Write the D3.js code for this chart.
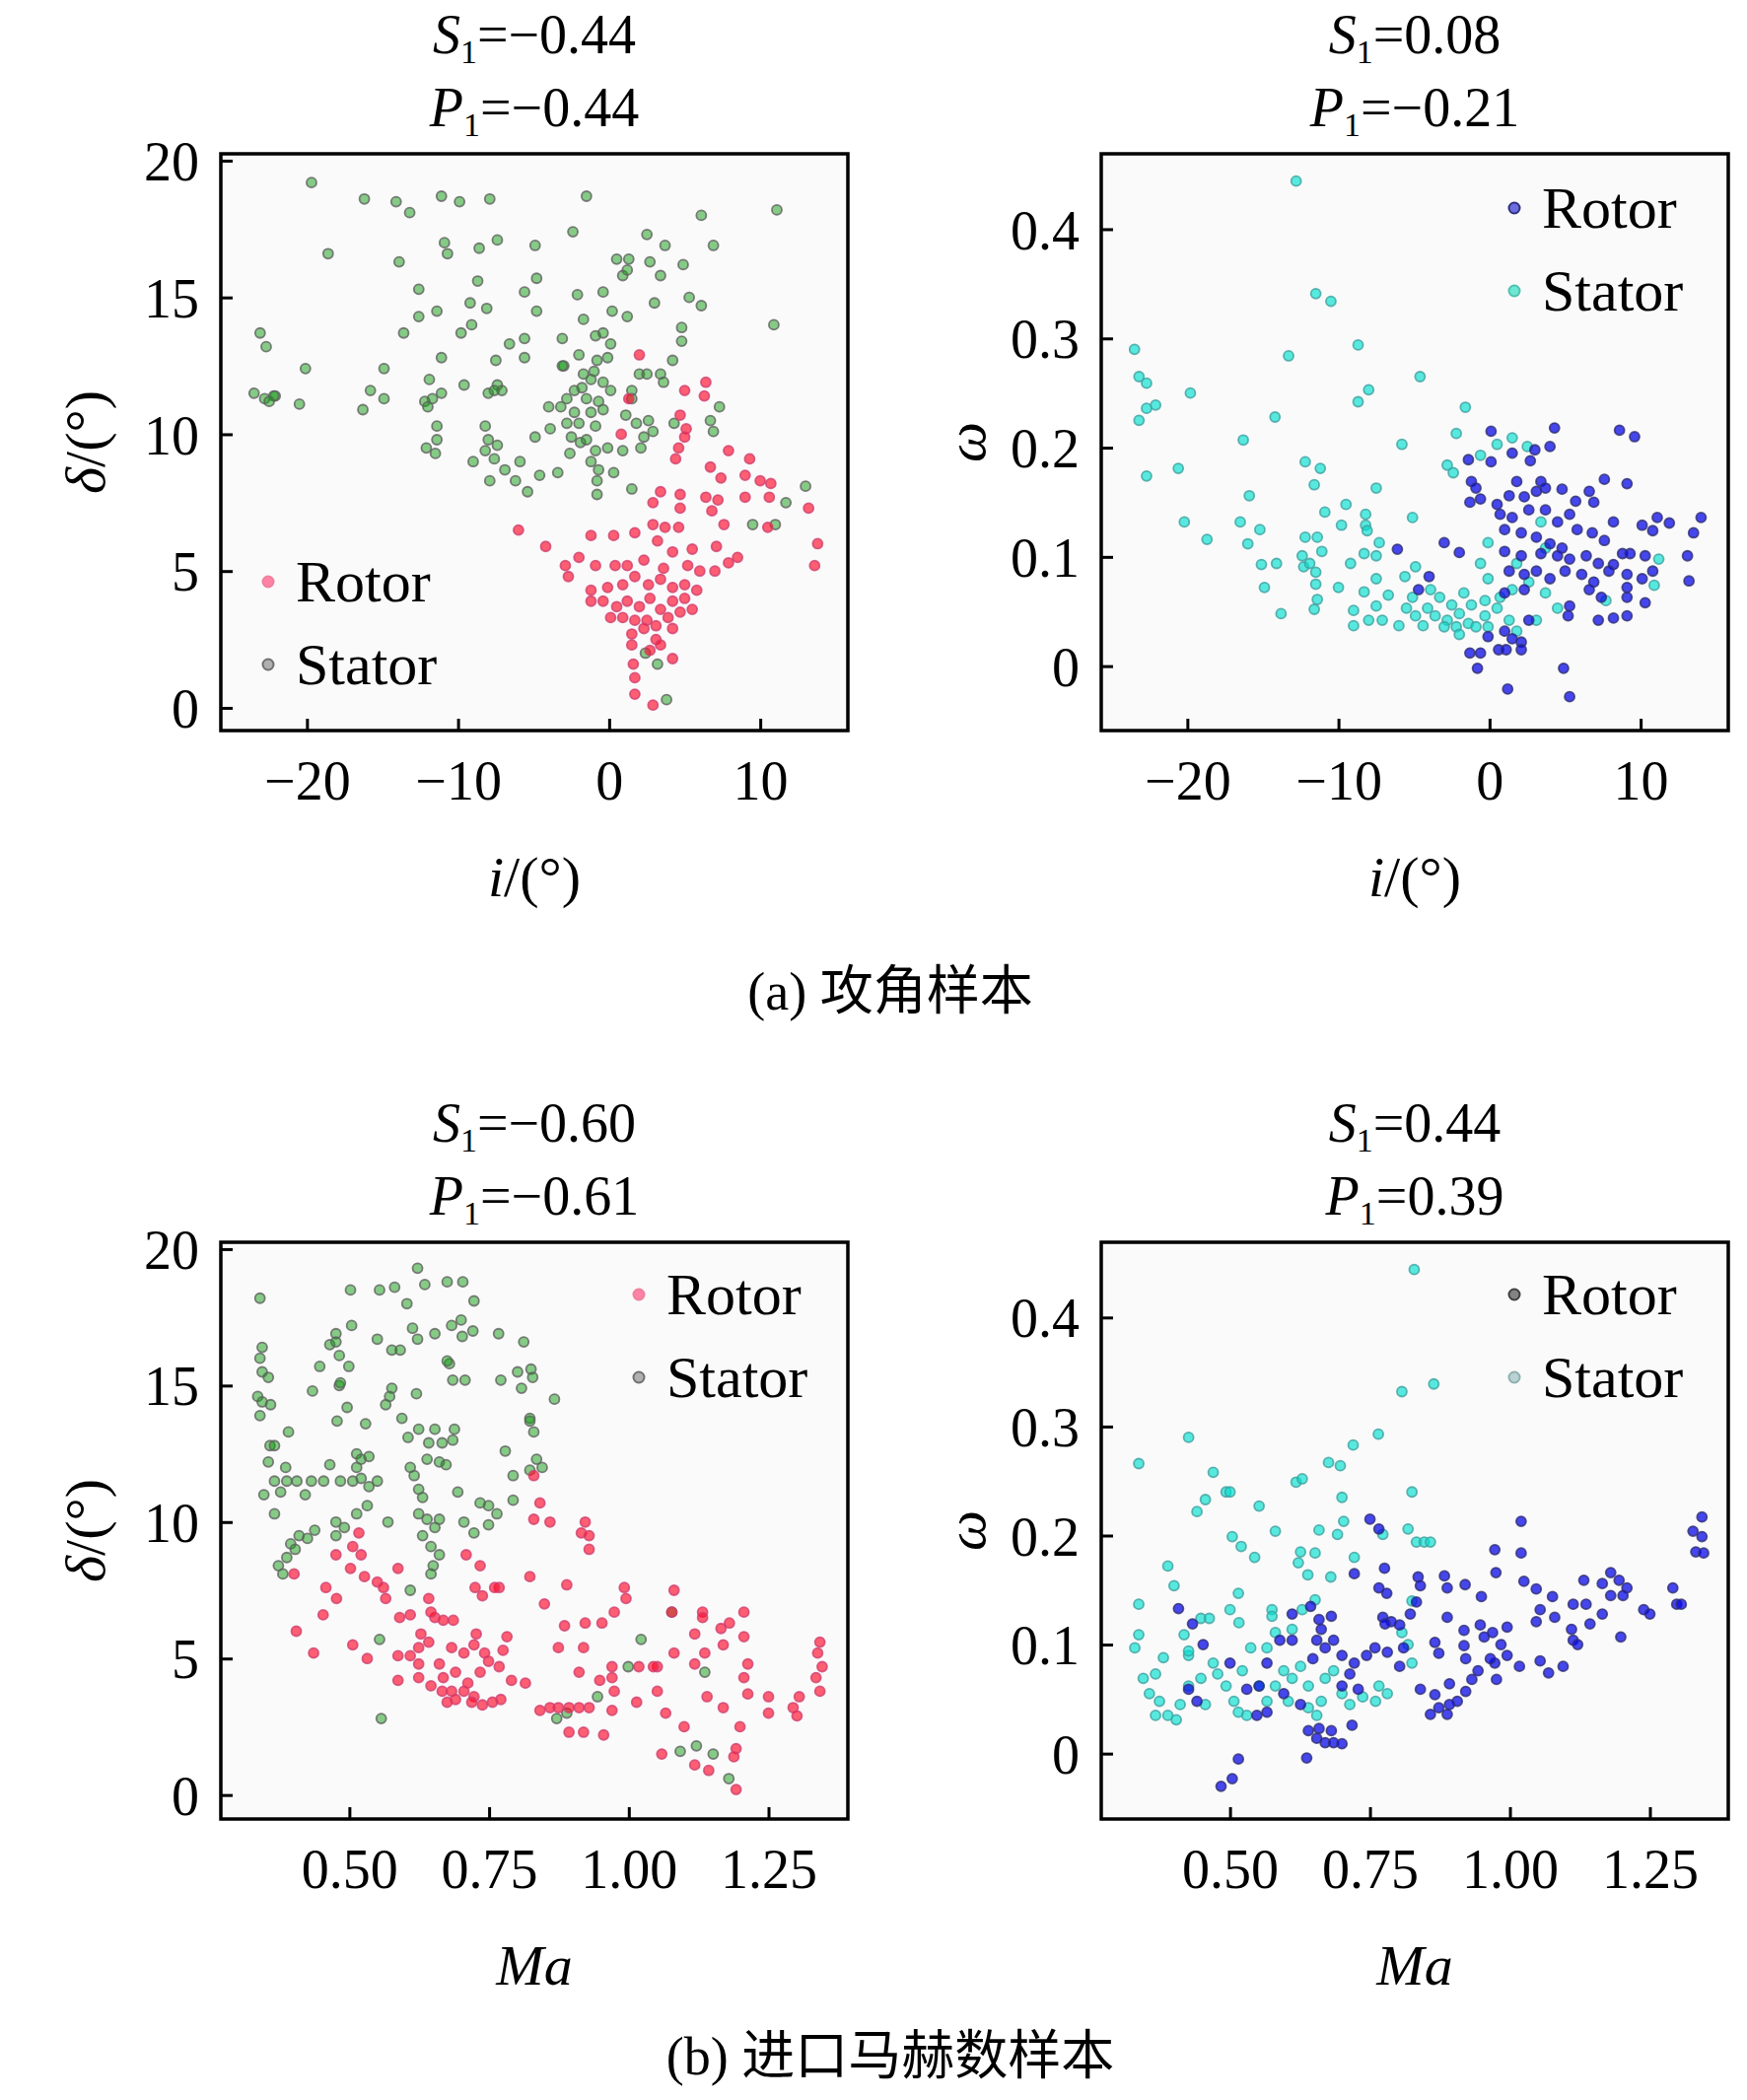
<!DOCTYPE html>
<html lang="en">
<head>
<meta charset="utf-8">
<style>
  body { margin: 0; background: #fff; }
  svg text { font-family: "Liberation Serif", "Times New Roman", "DejaVu Serif", serif; fill: #000; }
</style>
</head>
<body>
<svg id="chart" width="1772" height="2130"></svg>
<script src="https://cdn.jsdelivr.net/npm/d3@7"></script>
<script>
// ---- data ----
var iTicks = [-20, -10, 0, 10];
var maTicks = [0.5, 0.75, 1.0, 1.25];
var deltaTicks = [0, 5, 10, 15, 20];
var omegaTicks = [0, 0.1, 0.2, 0.3, 0.4];

var titles = [["-0.44", "-0.44"], ["0.08", "-0.21"], ["-0.60", "-0.61"], ["0.44", "0.39"]];

// (a) incidence vs deviation
var aRotorDelta = [[2.0,12.9],[6.4,11.9],[6.3,11.4],[5.0,11.6],[1.3,11.3],[4.7,10.7],[5.1,10.2],[5.0,9.9],[0.8,10.0],[4.6,9.5],[4.4,9.1],[6.7,8.8],[7.9,9.4],[9.3,9.1],[9.0,8.5],[7.4,8.4],[10.0,8.3],[10.7,8.2],[9.0,7.7],[10.6,7.7],[6.4,7.7],[7.2,7.6],[4.7,7.8],[3.4,7.9],[2.9,7.5],[4.7,7.3],[6.8,7.2],[13.2,7.3],[7.6,6.7],[10.5,6.6],[13.8,6.0],[13.6,5.2],[2.9,6.7],[3.7,6.6],[4.6,6.6],[-6.0,6.5],[-4.2,5.9],[-1.2,6.3],[0.3,6.3],[1.7,6.4],[3.2,6.1],[4.2,5.7],[5.5,5.8],[7.1,5.9],[8.5,5.5],[7.0,5.0],[7.9,5.3],[-2.9,5.2],[-2.0,5.5],[-2.7,4.8],[-0.9,5.2],[0.4,5.2],[1.2,5.2],[2.3,5.4],[3.6,5.1],[5.2,5.2],[6.0,5.0],[-1.2,4.3],[-0.1,4.4],[0.9,4.5],[1.7,4.8],[2.6,4.5],[3.4,4.7],[4.2,4.4],[5.0,4.5],[5.8,4.3],[-1.2,3.9],[-0.4,3.9],[0.5,3.7],[1.2,3.9],[2.0,3.7],[2.7,4.0],[3.4,3.6],[4.2,3.9],[5.0,4.0],[5.5,3.6],[0.1,3.3],[0.9,3.3],[1.7,3.2],[2.5,3.2],[3.1,3.0],[3.9,3.3],[4.7,3.5],[1.5,2.7],[2.3,2.9],[3.1,2.5],[4.2,2.9],[1.5,2.3],[3.4,2.3],[4.2,1.8],[1.6,1.6],[1.7,1.1],[1.7,0.5],[2.9,0.1],[2.7,2.1]];
var aStatorDelta = [[-19.7,19.2],[-16.2,18.6],[-14.1,18.5],[-13.2,18.1],[-11.1,18.7],[-9.9,18.5],[-7.9,18.6],[-1.5,18.7],[6.1,18.0],[11.1,18.2],[-18.6,16.6],[-13.9,16.3],[-10.9,17.0],[-10.7,16.6],[-8.6,16.8],[-7.4,17.1],[-4.9,16.9],[-2.4,17.4],[2.5,17.3],[3.7,16.9],[6.9,16.9],[0.5,16.4],[1.3,16.4],[2.7,16.3],[4.9,16.2],[3.4,15.8],[-8.7,15.6],[-4.8,15.7],[-12.6,15.3],[-5.6,15.2],[-2.1,15.1],[-0.4,15.2],[3.0,14.8],[5.3,15.0],[6.1,14.7],[-12.6,14.3],[-11.4,14.5],[-9.2,14.8],[-8.1,14.6],[-4.8,14.5],[0.2,14.5],[-23.1,13.7],[-22.7,13.2],[-13.6,13.7],[-9.8,13.7],[-9.1,14.0],[-6.6,13.3],[-5.6,13.5],[-1.7,14.2],[4.8,13.9],[4.8,13.4],[10.9,14.0],[-11.1,12.8],[-7.5,12.7],[-5.6,12.8],[-3.1,13.5],[4.2,12.7],[-20.1,12.4],[-14.9,12.4],[-3.0,12.5],[3.4,12.2],[3.6,11.9],[-9.6,11.8],[-11.9,12.0],[-23.5,11.5],[-22.1,11.4],[-20.5,11.1],[-15.8,11.6],[-14.9,11.3],[-16.3,10.9],[-8.0,11.5],[1.5,11.6],[1.5,11.3],[7.3,11.0],[-4.0,11.0],[-11.4,10.3],[-8.2,10.3],[-11.4,9.8],[-12.1,9.5],[-11.5,9.3],[-8.0,9.8],[-7.4,9.6],[-8.2,9.4],[-9.0,9.0],[-7.6,9.1],[-6.9,8.7],[-7.9,8.3],[-6.2,8.3],[-5.4,7.9],[-5.9,9.0],[-4.9,9.9],[-3.9,10.2],[-2.6,9.3],[-1.9,9.7],[1.1,10.7],[1.8,10.4],[2.6,10.5],[2.3,9.9],[2.9,10.1],[2.1,9.5],[-0.1,9.5],[4.3,10.4],[6.7,10.5],[6.9,10.1],[1.5,8.0],[11.7,7.5],[13.0,8.1],[9.5,6.7],[11.0,6.7],[-3.4,8.6],[-4.6,8.5],[0.3,8.6],[3.8,0.3],[2.4,2.0],[3.2,1.6],
  [-22.8,11.3],[-22.2,11.4],[-22.5,11.2],[-12.2,11.2],[-11.7,11.3],[-11.1,11.5],[-12.0,11.0],[-7.4,11.8],[-7.1,11.6],[-7.6,11.6],[0.9,15.8],[1.2,16.0],[-0.9,13.6],[-0.4,13.7],[0.1,13.3],[-2.0,12.9],[-0.8,12.7],[-0.1,12.8],[-3.1,12.5],[-1.7,12.2],[-1.2,12.0],[-0.4,11.9],[0.1,11.6],[-2.3,11.6],[-1.5,11.3],[-0.7,11.2],[-2.8,11.3],[-3.2,11.0],[-2.3,10.8],[-1.2,10.8],[-0.4,10.9],[-2.8,10.4],[-2.0,10.4],[-0.9,10.3],[-2.5,9.9],[-1.5,9.8],[-0.9,9.4],[-1.2,9.0],[-0.7,8.7],[-0.8,8.3],[-0.8,7.8],[0.9,9.4],[2.0,12.2],[2.5,12.2],[1.2,14.3],[-1.0,12.3],[-1.8,11.7]];

// (a) incidence vs loss
var aRotorOmega = [[0.1,0.215],[4.3,0.218],[4.0,0.201],[8.6,0.216],[9.6,0.210],[-1.4,0.189],[0.1,0.187],[1.5,0.195],[2.7,0.188],[3.0,0.198],[-1.2,0.169],[-0.9,0.163],[1.8,0.169],[3.4,0.169],[7.6,0.171],[9.1,0.167],[-1.3,0.150],[-0.6,0.153],[0.5,0.148],[1.3,0.156],[2.3,0.155],[3.1,0.160],[3.7,0.163],[4.8,0.162],[5.7,0.151],[6.6,0.160],[6.9,0.150],[0.7,0.139],[1.5,0.136],[2.6,0.143],[3.7,0.143],[4.5,0.132],[5.3,0.139],[8.2,0.132],[10.1,0.129],[11.1,0.136],[11.9,0.131],[14.0,0.136],[10.8,0.124],[13.5,0.122],[1.0,0.125],[2.1,0.122],[3.1,0.118],[4.0,0.112],[4.8,0.108],[5.8,0.125],[6.8,0.122],[7.6,0.115],[1.0,0.105],[2.1,0.101],[3.4,0.103],[4.5,0.101],[5.3,0.098],[6.4,0.101],[7.2,0.094],[8.2,0.093],[8.8,0.103],[9.3,0.103],[10.3,0.101],[13.1,0.101],[13.2,0.078],[-3.0,0.113],[-6.1,0.107],[-2.0,0.104],[1.3,0.087],[2.3,0.084],[3.1,0.087],[4.0,0.080],[5.0,0.087],[6.1,0.084],[6.9,0.077],[7.9,0.087],[9.1,0.084],[10.1,0.080],[10.8,0.087],[9.1,0.072],[9.1,0.063],[10.3,0.058],[6.6,0.070],[7.4,0.063],[5.3,0.055],[8.2,0.044],[7.2,0.042],[9.1,0.046],[5.2,0.046],[-4.0,0.082],[-4.7,0.070],[2.3,0.070],[-0.1,0.027],[1.0,0.032],[1.5,0.025],[2.1,0.022],[2.1,0.015],[0.6,0.015],[1.1,0.015],[-1.3,0.012],[-0.6,0.012],[-0.8,-0.002],[4.9,-0.002],[1.2,-0.021],[5.3,-0.028],[2.6,0.042],[1.0,0.067]];
var aStatorOmega = [[-12.8,0.444],[-11.5,0.341],[-10.5,0.334],[-23.5,0.290],[-13.3,0.284],[-8.7,0.294],[-23.2,0.265],[-22.7,0.259],[-22.7,0.236],[-22.1,0.239],[-23.2,0.225],[-19.8,0.250],[-14.2,0.228],[-8.0,0.253],[-8.7,0.242],[-4.6,0.265],[-1.6,0.237],[-16.3,0.207],[-5.8,0.203],[-2.2,0.213],[-20.6,0.181],[-22.7,0.174],[-12.2,0.187],[-11.2,0.181],[-11.6,0.166],[-2.8,0.184],[-2.4,0.177],[-0.6,0.193],[0.5,0.203],[1.5,0.209],[2.5,0.201],[-15.9,0.156],[-7.5,0.163],[-9.5,0.148],[-20.2,0.132],[-10.9,0.141],[-8.2,0.139],[-5.1,0.136],[-16.5,0.132],[-15.2,0.125],[-9.8,0.129],[-8.2,0.129],[-18.7,0.116],[-16.0,0.112],[-8.1,0.124],[-12.2,0.118],[-11.4,0.118],[-11.1,0.105],[-7.3,0.113],[-0.1,0.113],[-15.1,0.093],[-14.1,0.094],[-12.4,0.101],[-12.3,0.091],[-11.9,0.094],[-9.2,0.094],[-8.3,0.103],[-7.5,0.101],[-14.9,0.072],[-11.5,0.086],[-11.5,0.075],[-10.0,0.072],[-8.3,0.068],[-7.5,0.080],[-6.7,0.065],[-11.4,0.061],[-11.6,0.052],[-13.8,0.048],[-9.0,0.051],[-7.5,0.055],[-5.6,0.082],[-4.9,0.091],[-3.9,0.070],[-9.0,0.037],[-8.0,0.042],[-7.1,0.042],[-6.0,0.037],[-5.5,0.053],[-4.9,0.046],[-4.4,0.037],[-3.3,0.063],[-2.5,0.056],[-3.6,0.046],[-2.8,0.042],[-2.0,0.048],[-1.4,0.039],[-3.0,0.036],[-2.2,0.036],[-0.9,0.036],[-0.3,0.046],[-1.2,0.056],[-1.7,0.067],[-0.3,0.060],[0.5,0.053],[1.3,0.042],[-0.1,0.036],[0.7,0.063],[-0.6,0.094],[-0.1,0.080],[1.5,0.070],[2.6,0.077],[3.1,0.042],[3.7,0.067],[4.5,0.053],[1.8,0.094],[3.7,0.108],[3.4,0.132],[7.7,0.060],[11.2,0.098],[10.9,0.074],[1.8,0.032],[-4.1,0.053],[-5.1,0.063],[-2.0,0.029]];

// (b) inlet Mach vs deviation
var bRotorDelta = [[0.830,11.7],[0.830,10.1],[0.859,10.0],[0.841,10.7],[0.922,10.0],[0.915,9.6],[0.929,9.5],[0.929,9.0],[0.823,8.0],[0.768,7.6],[0.760,7.6],[0.992,7.6],[0.995,7.2],[0.889,7.7],[0.734,8.4],[0.709,8.8],[0.517,9.6],[0.476,8.8],[0.506,9.1],[0.521,8.8],[0.502,8.3],[0.587,8.3],[0.401,8.1],[0.527,8.0],[0.550,7.8],[0.561,7.6],[0.565,7.2],[0.458,7.6],[0.477,7.2],[0.642,7.2],[0.725,7.6],[0.738,7.3],[0.849,7.0],[1.081,7.5],[1.077,6.7],[1.132,6.7],[1.180,6.3],[1.206,6.7],[1.206,5.8],[1.342,5.6],[1.338,5.2],[1.346,4.7],[1.335,4.3],[1.342,3.8],[1.305,3.6],[1.294,3.2],[1.301,2.9],[1.250,3.6],[1.213,3.7],[1.250,3.0],[1.199,2.5],[1.192,1.7],[1.188,1.4],[1.192,0.2],[1.118,1.1],[1.143,0.9],[1.059,1.5],[1.099,2.5],[1.169,3.2],[1.140,3.6],[1.206,4.3],[1.213,4.8],[1.169,5.5],[1.136,5.2],[1.118,5.9],[1.118,4.8],[1.081,5.2],[1.066,3.0],[1.051,3.8],[1.051,4.7],[1.014,3.4],[0.970,4.7],[0.970,4.3],[0.970,3.1],[0.974,3.8],[0.948,4.2],[0.919,5.4],[0.952,6.3],[0.922,6.3],[0.885,6.2],[0.874,5.4],[0.911,4.5],[0.929,3.2],[0.911,3.2],[0.893,3.2],[0.874,3.2],[0.859,3.2],[0.841,3.1],[0.955,2.2],[0.919,2.3],[0.893,2.3],[0.974,6.7],[1.018,4.7],[1.044,4.7],[1.165,6.1],[1.132,6.5],[0.782,5.8],[0.815,4.1],[0.790,4.2],[0.768,4.7],[0.749,4.9],[0.734,4.5],[0.738,3.3],[0.723,3.6],[0.705,3.8],[0.683,3.8],[0.666,3.8],[0.646,4.0],[0.668,4.3],[0.690,4.5],[0.712,4.1],[0.661,4.8],[0.683,5.4],[0.705,5.2],[0.723,5.5],[0.742,5.2],[0.642,5.6],[0.628,5.9],[0.624,5.4],[0.624,4.8],[0.624,4.3],[0.653,6.5],[0.668,6.4],[0.686,6.4],[0.727,5.9],[0.775,5.3],[0.587,5.1],[0.587,4.2],[0.609,5.1],[0.532,5.0],[0.506,5.5],[0.590,6.5],[0.609,6.6],[0.646,6.7],[0.405,6.0],[0.436,5.2],[0.453,6.6],[0.690,3.5],[0.719,3.4],[0.756,3.4],[0.771,3.5],[0.675,3.4]];
var bStatorDelta = [[0.340,18.2],[0.502,18.5],[0.554,18.5],[0.581,18.6],[0.622,19.3],[0.635,18.7],[0.675,18.8],[0.703,18.8],[0.603,18.0],[0.723,18.1],[0.504,17.2],[0.476,16.9],[0.465,16.5],[0.550,16.7],[0.613,17.1],[0.653,16.9],[0.683,17.2],[0.700,17.4],[0.721,17.0],[0.622,16.7],[0.702,16.8],[0.767,16.9],[0.812,16.6],[0.576,16.3],[0.591,16.3],[0.344,16.4],[0.340,16.0],[0.482,16.1],[0.447,15.7],[0.499,15.7],[0.679,15.8],[0.685,15.2],[0.707,15.2],[0.771,15.2],[0.801,15.5],[0.825,15.6],[0.828,15.3],[0.867,14.5],[0.808,14.9],[0.434,14.8],[0.344,15.5],[0.355,15.3],[0.482,15.0],[0.496,14.2],[0.576,14.9],[0.620,14.7],[0.391,13.3],[0.478,13.7],[0.529,13.6],[0.624,13.4],[0.653,13.4],[0.688,13.4],[0.642,12.9],[0.666,12.9],[0.685,13.0],[0.823,13.8],[0.779,12.6],[0.358,12.8],[0.355,12.2],[0.386,12.0],[0.465,12.1],[0.639,12.3],[0.661,12.2],[0.673,12.1],[0.845,12.0],[0.835,12.3],[0.347,11.0],[0.366,10.3],[0.377,11.1],[0.421,11.0],[0.694,11.1],[0.734,10.7],[0.793,10.8],[0.705,10.0],[0.723,9.6],[0.569,10.0],[0.476,10.0],[0.438,9.7],[0.609,7.5],[0.554,5.7],[0.557,2.8],[0.889,3.0],[0.871,2.8],[1.092,1.6],[1.121,1.8],[1.151,1.5],[1.179,0.6],[1.136,4.5],[1.022,5.7],[1.077,6.7],[0.999,4.7],[0.944,3.6],
  [0.336,14.6],[0.344,14.4],[0.340,13.9],[0.359,14.3],[0.366,12.8],[0.366,11.5],[0.388,11.5],[0.406,11.5],[0.432,11.5],[0.454,11.5],[0.484,11.5],[0.506,11.5],[0.521,11.6],[0.535,11.3],[0.550,11.5],[0.513,12.0],[0.513,12.5],[0.521,12.3],[0.532,10.6],[0.513,10.3],[0.491,9.8],[0.476,9.5],[0.535,12.4],[0.572,14.6],[0.565,14.3],[0.594,13.8],[0.605,13.1],[0.609,12.0],[0.616,11.7],[0.624,11.2],[0.631,10.9],[0.624,10.3],[0.639,10.1],[0.653,9.8],[0.661,10.1],[0.631,9.5],[0.646,9.1],[0.661,8.8],[0.650,8.4],[0.646,8.1],[0.395,9.2],[0.403,9.0],[0.388,8.7],[0.373,8.4],[0.381,8.1],[0.410,9.5],[0.425,9.4],[0.675,15.9],[0.749,10.6],[0.764,10.3],[0.749,9.9],[0.823,13.7],[0.830,13.3],[0.793,11.7],[0.823,11.9],[0.484,15.1],[0.476,16.6]];

// (b) inlet Mach vs loss
var bRotorOmega = [[1.343,0.217],[1.327,0.204],[1.343,0.199],[1.332,0.185],[1.346,0.184],[1.020,0.213],[1.020,0.184],[0.973,0.187],[0.975,0.166],[0.750,0.215],[0.766,0.206],[0.722,0.165],[0.776,0.170],[0.766,0.152],[0.780,0.147],[0.836,0.162],[0.840,0.154],[0.883,0.163],[0.888,0.152],[0.920,0.155],[0.949,0.144],[1.025,0.158],[1.047,0.151],[1.054,0.132],[1.076,0.144],[1.080,0.125],[1.047,0.121],[1.113,0.137],[1.132,0.159],[1.136,0.137],[1.143,0.119],[1.110,0.114],[1.113,0.104],[1.121,0.100],[1.165,0.156],[1.180,0.166],[1.195,0.159],[1.209,0.152],[1.202,0.145],[1.180,0.145],[1.165,0.128],[1.198,0.107],[1.239,0.132],[1.250,0.128],[1.291,0.152],[1.298,0.137],[1.306,0.137],[1.054,0.085],[1.069,0.074],[1.095,0.080],[1.017,0.080],[0.995,0.116],[0.969,0.111],[0.984,0.100],[0.995,0.090],[0.973,0.083],[0.976,0.068],[0.947,0.118],[0.954,0.107],[0.965,0.087],[0.918,0.113],[0.918,0.099],[0.921,0.087],[0.943,0.076],[0.932,0.068],[0.921,0.057],[0.906,0.048],[0.892,0.045],[0.873,0.042],[0.858,0.036],[0.888,0.036],[0.892,0.064],[0.866,0.054],[0.840,0.059],[0.866,0.102],[0.873,0.092],[0.888,0.125],[0.833,0.139],[0.822,0.128],[0.803,0.118],[0.788,0.121],[0.773,0.125],[0.803,0.080],[0.810,0.097],[0.781,0.093],[0.759,0.097],[0.744,0.090],[0.722,0.083],[0.700,0.090],[0.714,0.073],[0.700,0.062],[0.729,0.059],[0.685,0.104],[0.670,0.097],[0.655,0.104],[0.648,0.087],[0.611,0.104],[0.589,0.104],[0.566,0.083],[0.552,0.062],[0.596,0.055],[0.626,0.045],[0.566,0.038],[0.548,0.035],[0.663,0.114],[0.681,0.126],[0.659,0.123],[0.611,0.128],[0.644,0.135],[0.777,0.119],[0.640,0.021],[0.655,0.014],[0.670,0.010],[0.685,0.010],[0.700,0.009],[0.681,0.021],[0.659,0.023],[0.718,0.026],[0.452,0.100],[0.433,0.119],[0.408,0.133],[0.426,0.059],[0.441,0.048],[0.515,-0.005],[0.504,-0.023],[0.484,-0.030],[0.637,-0.004],[0.500,0.083],[0.530,0.059]];
var bStatorOmega = [[0.829,0.444],[0.807,0.332],[0.864,0.339],[0.765,0.293],[0.337,0.266],[0.426,0.290],[0.720,0.283],[0.676,0.267],[0.697,0.264],[0.470,0.258],[0.618,0.249],[0.629,0.252],[0.493,0.240],[0.500,0.240],[0.700,0.235],[0.825,0.240],[0.456,0.233],[0.552,0.227],[0.441,0.222],[0.581,0.204],[0.659,0.205],[0.703,0.213],[0.692,0.201],[0.773,0.201],[0.818,0.206],[0.833,0.194],[0.847,0.194],[0.858,0.194],[0.504,0.199],[0.520,0.190],[0.544,0.180],[0.722,0.180],[0.626,0.185],[0.652,0.184],[0.622,0.175],[0.389,0.172],[0.639,0.164],[0.680,0.162],[0.400,0.154],[0.515,0.147],[0.337,0.137],[0.500,0.132],[0.516,0.120],[0.575,0.132],[0.575,0.126],[0.652,0.141],[0.629,0.132],[0.448,0.124],[0.463,0.124],[0.825,0.140],[0.807,0.111],[0.337,0.109],[0.330,0.097],[0.381,0.088],[0.418,0.109],[0.818,0.100],[0.825,0.083],[0.345,0.069],[0.367,0.073],[0.356,0.055],[0.374,0.048],[0.389,0.035],[0.404,0.031],[0.367,0.035],[0.411,0.045],[0.426,0.062],[0.426,0.090],[0.448,0.069],[0.456,0.045],[0.470,0.083],[0.478,0.073],[0.493,0.062],[0.507,0.048],[0.515,0.038],[0.530,0.035],[0.522,0.076],[0.537,0.097],[0.552,0.062],[0.566,0.048],[0.581,0.062],[0.596,0.076],[0.604,0.048],[0.611,0.069],[0.626,0.080],[0.640,0.062],[0.640,0.042],[0.655,0.035],[0.663,0.048],[0.670,0.069],[0.685,0.076],[0.700,0.055],[0.714,0.045],[0.737,0.052],[0.760,0.048],[0.781,0.055],[0.766,0.062],[0.566,0.097],[0.611,0.114],[0.581,0.111],[0.426,0.094]];

var svg = d3.select("#chart");

var deltaStyle = {
    rotor: { fill: "#ff0a2a", fillOp: 0.65, stroke: "#d04070" },
    stator: { fill: "#109a10", fillOp: 0.5, stroke: "#606060" }
};
var omegaStyle = {
    rotor: { fill: "#0a0ae8", fillOp: 0.75, stroke: "#303070" },
    stator: { fill: "#00e0d0", fillOp: 0.65, stroke: "#40a0a0" }
};

function panel(o) {
    var x = d3.scaleLinear().domain(o.xDom).range([o.x0, o.x1]);
    var y = d3.scaleLinear().domain(o.yDom).range([o.y1, o.y0]);
    var g = svg.append("g");

    g.append("rect").attr("x", o.x0).attr("y", o.y0)
        .attr("width", o.x1 - o.x0).attr("height", o.y1 - o.y0)
        .attr("fill", "#fafafa");

    // points: stator first, rotor on top
    [["stator", o.stator], ["rotor", o.rotor]].forEach(function(s) {
        var st = o.style[s[0]];
        g.append("g").selectAll("circle").data(s[1]).enter()
            .append("circle")
            .attr("cx", function(d) { return x(d[0]); })
            .attr("cy", function(d) { return y(d[1]); })
            .attr("r", 5)
            .attr("fill", st.fill).attr("fill-opacity", st.fillOp)
            .attr("stroke", st.stroke).attr("stroke-opacity", 0.8)
            .attr("stroke-width", 1.8);
    });

    // axes with inward ticks
    var xa = g.append("g").attr("transform", "translate(0," + o.y1 + ")")
        .call(d3.axisBottom(x).tickValues(o.xTicks).tickSizeInner(-12).tickSizeOuter(0)
            .tickPadding(20).tickFormat(o.xFmt));
    var ya = g.append("g").attr("transform", "translate(" + o.x0 + ",0)")
        .call(d3.axisLeft(y).tickValues(o.yTicks).tickSizeInner(-12).tickSizeOuter(0)
            .tickPadding(22).tickFormat(o.yFmt));
    [xa, ya].forEach(function(a) {
        a.select(".domain").remove();
        a.selectAll("line").attr("stroke", "#000").attr("stroke-width", 3);
        a.selectAll("text").style("font-family", "'Liberation Serif', 'Times New Roman', serif").style("font-size", "56px").attr("fill", "#000");
    });
    xa.selectAll("text").attr("dy", "0.9em");
    ya.selectAll("text").attr("dy", "0.35em");

    g.append("rect").attr("x", o.x0).attr("y", o.y0)
        .attr("width", o.x1 - o.x0).attr("height", o.y1 - o.y0)
        .attr("fill", "none").attr("stroke", "#000").attr("stroke-width", 3.5);

    // title
    var cx = (o.x0 + o.x1) / 2;
    [["S", o.title[0], o.y0 - 102], ["P", o.title[1], o.y0 - 28]].forEach(function(t) {
        var tx = g.append("text").attr("x", cx).attr("y", t[2])
            .attr("text-anchor", "middle").style("font-size", "56px");
        tx.append("tspan").style("font-style", "italic").text(t[0]);
        tx.append("tspan").attr("dy", 10).style("font-size", "34px").text("1");
        tx.append("tspan").attr("dy", -10).text("=" + t[1].replace("-", "\u2212"));
    });

    // axis labels
    var xl = g.append("text").attr("x", cx).attr("y", o.y1 + 168)
        .attr("text-anchor", "middle").style("font-size", "58px");
    if (o.xLabel === "i") {
        xl.append("tspan").style("font-style", "italic").text("i");
        xl.append("tspan").text("/(°)");
    } else {
        xl.append("tspan").style("font-style", "italic").text("Ma");
    }
    var yl = g.append("text")
        .attr("transform", "translate(" + (o.x0 - 118) + "," + ((o.y0 + o.y1) / 2) + ") rotate(-90)")
        .attr("text-anchor", "middle").style("font-size", "58px");
    if (o.yLabel === "delta") {
        yl.append("tspan").style("font-style", "italic").text("δ");
        yl.append("tspan").text("/(°)");
    } else {
        yl.append("tspan").style("font-style", "italic").text("ω");
    }

    // legend
    var names = ["Rotor", "Stator"];
    names.forEach(function(n, k) {
        var ly = o.legY + k * 84;
        var st = o.legStyle[k];
        g.append("circle").attr("cx", o.legX).attr("cy", ly).attr("r", 5.5)
            .attr("fill", st[0]).attr("fill-opacity", 0.7)
            .attr("stroke", st[1]).attr("stroke-width", 2);
        g.append("text").attr("x", o.legX + 28).attr("y", ly + 20)
            .style("font-size", "60px").text(n);
    });
}

var fmtInt = function(d) { return d3.format("d")(d).replace("-", "\u2212"); };
var fmt1 = function(d) { return d === 0 ? "0" : d3.format(".1f")(d); };
var fmt2 = d3.format(".2f");

var L = [224, 860], R = [1117, 1753];
var topY = [156, 741], botY = [1260, 1845];

panel({ x0: L[0], x1: L[1], y0: topY[0], y1: topY[1], xDom: [-25.7, 15.8], yDom: [-0.83, 20.25],
    xTicks: iTicks, yTicks: deltaTicks, xFmt: fmtInt, yFmt: fmtInt, rotor: aRotorDelta, stator: aStatorDelta,
    style: deltaStyle, title: titles[0], xLabel: "i", yLabel: "delta",
    legX: 272, legY: 590, legStyle: [["#ff5080", "#f080a0"], ["#909090", "#707070"]] });
panel({ x0: R[0], x1: R[1], y0: topY[0], y1: topY[1], xDom: [-25.7, 15.8], yDom: [-0.059, 0.469],
    xTicks: iTicks, yTicks: omegaTicks, xFmt: fmtInt, yFmt: fmt1, rotor: aRotorOmega, stator: aStatorOmega,
    style: omegaStyle, title: titles[1], xLabel: "i", yLabel: "omega",
    legX: 1536, legY: 211, legStyle: [["#3030d0", "#303080"], ["#30e0c0", "#50c0b0"]] });
panel({ x0: L[0], x1: L[1], y0: botY[0], y1: botY[1], xDom: [0.27, 1.392], yDom: [-0.88, 20.25],
    xTicks: maTicks, yTicks: deltaTicks, xFmt: fmt2, yFmt: fmtInt, rotor: bRotorDelta, stator: bStatorDelta,
    style: deltaStyle, title: titles[2], xLabel: "Ma", yLabel: "delta",
    legX: 648, legY: 1313, legStyle: [["#ff5080", "#f080a0"], ["#909090", "#707070"]] });
panel({ x0: R[0], x1: R[1], y0: botY[0], y1: botY[1], xDom: [0.27, 1.39], yDom: [-0.06, 0.469],
    xTicks: maTicks, yTicks: omegaTicks, xFmt: fmt2, yFmt: fmt1, rotor: bRotorOmega, stator: bStatorOmega,
    style: omegaStyle, title: titles[3], xLabel: "Ma", yLabel: "omega",
    legX: 1536, legY: 1313, legStyle: [["#505050", "#404040"], ["#a0c0c0", "#90b0b0"]] });

// captions
svg.append("text").attr("x", 903).attr("y", 1024).attr("text-anchor", "middle")
    .style("font-size", "54px").style("font-family", "'Liberation Serif', 'Noto Sans CJK SC'")
    .text("(a) 攻角样本");
svg.append("text").attr("x", 903).attr("y", 2104).attr("text-anchor", "middle")
    .style("font-size", "54px").style("font-family", "'Liberation Serif', 'Noto Sans CJK SC'")
    .text("(b) 进口马赫数样本");
</script>
</body>
</html>
